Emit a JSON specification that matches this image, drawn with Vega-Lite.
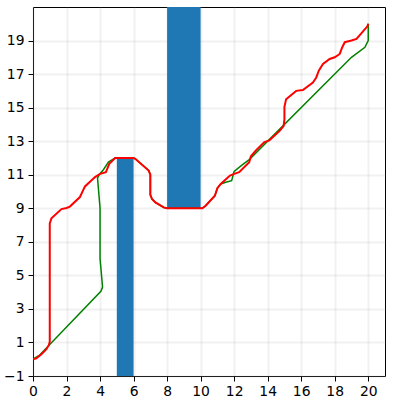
{
  "$schema": "https://vega.github.io/schema/vega-lite/v6.json",
  "autosize": {"type": "none"},
  "padding": {"left": 33, "top": 7, "right": 11, "bottom": 31},
  "width": 352,
  "height": 369,
  "background": "white",
  "config": {
    "view": {"stroke": "black", "strokeWidth": 1},
    "font": "DejaVu Sans",
    "axis": {
      "labelFont": "DejaVu Sans",
      "labelFontSize": 13.9,
      "labelColor": "black",
      "tickColor": "black",
      "tickSize": 5,
      "tickWidth": 1,
      "domain": false,
      "grid": true,
      "gridColor": "#b0b0b0",
      "gridOpacity": 0.18,
      "gridWidth": 2,
      "title": null
    }
  },
  "datasets": {
    "bars": [
      {"x": 5, "x2": 6, "y": -1, "y2": 12},
      {"x": 8, "x2": 10, "y": 9, "y2": 21}
    ],
    "paths": [
      {"s": "green", "i": 0, "x": 0, "y": 0},
      {"s": "green", "i": 1, "x": 0.4, "y": 0.25},
      {"s": "green", "i": 2, "x": 4.05, "y": 4.05},
      {"s": "green", "i": 3, "x": 4.15, "y": 4.3},
      {"s": "green", "i": 4, "x": 4.0, "y": 6.0},
      {"s": "green", "i": 5, "x": 4.0, "y": 9.0},
      {"s": "green", "i": 6, "x": 3.85, "y": 10.8},
      {"s": "green", "i": 7, "x": 3.95, "y": 11.0},
      {"s": "green", "i": 8, "x": 4.2, "y": 11.3},
      {"s": "green", "i": 9, "x": 4.5, "y": 11.75},
      {"s": "green", "i": 10, "x": 4.9, "y": 12},
      {"s": "green", "i": 11, "x": 6, "y": 12},
      {"s": "green", "i": 12, "x": 6.1, "y": 11.95},
      {"s": "green", "i": 13, "x": 6.9, "y": 11.25},
      {"s": "green", "i": 14, "x": 7, "y": 11},
      {"s": "green", "i": 15, "x": 7, "y": 9.8},
      {"s": "green", "i": 16, "x": 7.1, "y": 9.55},
      {"s": "green", "i": 17, "x": 7.3, "y": 9.35},
      {"s": "green", "i": 18, "x": 7.8, "y": 9.05},
      {"s": "green", "i": 19, "x": 8, "y": 9},
      {"s": "green", "i": 20, "x": 10.1, "y": 9},
      {"s": "green", "i": 21, "x": 10.3, "y": 9.15},
      {"s": "green", "i": 22, "x": 10.85, "y": 9.75},
      {"s": "green", "i": 23, "x": 11, "y": 10.2},
      {"s": "green", "i": 24, "x": 11.2, "y": 10.45},
      {"s": "green", "i": 25, "x": 11.5, "y": 10.55},
      {"s": "green", "i": 26, "x": 11.85, "y": 10.65},
      {"s": "green", "i": 27, "x": 12.0, "y": 11.2},
      {"s": "green", "i": 28, "x": 12.5, "y": 11.6},
      {"s": "green", "i": 29, "x": 12.9, "y": 11.9},
      {"s": "green", "i": 30, "x": 19, "y": 18},
      {"s": "green", "i": 31, "x": 19.8, "y": 18.6},
      {"s": "green", "i": 32, "x": 20, "y": 19},
      {"s": "green", "i": 33, "x": 20, "y": 20},
      {"s": "red", "i": 0, "x": 0, "y": 0},
      {"s": "red", "i": 1, "x": 0.2, "y": 0.05},
      {"s": "red", "i": 2, "x": 0.5, "y": 0.3},
      {"s": "red", "i": 3, "x": 0.8, "y": 0.6},
      {"s": "red", "i": 4, "x": 0.95, "y": 0.85},
      {"s": "red", "i": 5, "x": 1, "y": 1.05},
      {"s": "red", "i": 6, "x": 1, "y": 8.1},
      {"s": "red", "i": 7, "x": 1.1, "y": 8.4},
      {"s": "red", "i": 8, "x": 1.7, "y": 8.95},
      {"s": "red", "i": 9, "x": 2, "y": 9.02},
      {"s": "red", "i": 10, "x": 2.2, "y": 9.1},
      {"s": "red", "i": 11, "x": 2.8, "y": 9.67},
      {"s": "red", "i": 12, "x": 3, "y": 10.1},
      {"s": "red", "i": 13, "x": 3.1, "y": 10.3},
      {"s": "red", "i": 14, "x": 3.7, "y": 10.86},
      {"s": "red", "i": 15, "x": 4, "y": 11.05},
      {"s": "red", "i": 16, "x": 4.35, "y": 11.15},
      {"s": "red", "i": 17, "x": 4.55, "y": 11.65},
      {"s": "red", "i": 18, "x": 4.9, "y": 12},
      {"s": "red", "i": 19, "x": 6, "y": 12},
      {"s": "red", "i": 20, "x": 6.1, "y": 11.95},
      {"s": "red", "i": 21, "x": 6.9, "y": 11.25},
      {"s": "red", "i": 22, "x": 7, "y": 11},
      {"s": "red", "i": 23, "x": 7, "y": 9.8},
      {"s": "red", "i": 24, "x": 7.1, "y": 9.55},
      {"s": "red", "i": 25, "x": 7.3, "y": 9.35},
      {"s": "red", "i": 26, "x": 7.8, "y": 9.05},
      {"s": "red", "i": 27, "x": 8, "y": 9},
      {"s": "red", "i": 28, "x": 10.1, "y": 9},
      {"s": "red", "i": 29, "x": 10.3, "y": 9.15},
      {"s": "red", "i": 30, "x": 10.85, "y": 9.75},
      {"s": "red", "i": 31, "x": 11, "y": 10.2},
      {"s": "red", "i": 32, "x": 11.2, "y": 10.45},
      {"s": "red", "i": 33, "x": 11.75, "y": 10.95},
      {"s": "red", "i": 34, "x": 12, "y": 11.05},
      {"s": "red", "i": 35, "x": 12.3, "y": 11.15},
      {"s": "red", "i": 36, "x": 12.9, "y": 11.75},
      {"s": "red", "i": 37, "x": 13, "y": 12.1},
      {"s": "red", "i": 38, "x": 13.3, "y": 12.45},
      {"s": "red", "i": 39, "x": 13.8, "y": 12.95},
      {"s": "red", "i": 40, "x": 14.1, "y": 13.05},
      {"s": "red", "i": 41, "x": 14.7, "y": 13.6},
      {"s": "red", "i": 42, "x": 14.95, "y": 13.9},
      {"s": "red", "i": 43, "x": 15, "y": 14.3},
      {"s": "red", "i": 44, "x": 15, "y": 15.05},
      {"s": "red", "i": 45, "x": 15.1, "y": 15.5},
      {"s": "red", "i": 46, "x": 15.7, "y": 16},
      {"s": "red", "i": 47, "x": 16.1, "y": 16.05},
      {"s": "red", "i": 48, "x": 16.7, "y": 16.5},
      {"s": "red", "i": 49, "x": 16.9, "y": 16.8},
      {"s": "red", "i": 50, "x": 17.05, "y": 17.2},
      {"s": "red", "i": 51, "x": 17.3, "y": 17.6},
      {"s": "red", "i": 52, "x": 17.7, "y": 17.9},
      {"s": "red", "i": 53, "x": 18, "y": 18},
      {"s": "red", "i": 54, "x": 18.3, "y": 18.2},
      {"s": "red", "i": 55, "x": 18.45, "y": 18.6},
      {"s": "red", "i": 56, "x": 18.6, "y": 18.9},
      {"s": "red", "i": 57, "x": 19, "y": 19},
      {"s": "red", "i": 58, "x": 19.3, "y": 19.1},
      {"s": "red", "i": 59, "x": 19.95, "y": 19.85},
      {"s": "red", "i": 60, "x": 20, "y": 20}
    ]
  },
  "encoding": {
    "x": {"field": "x", "type": "quantitative",
          "scale": {"domain": [0, 21], "nice": false, "zero": false},
          "axis": {"values": [0, 2, 4, 6, 8, 10, 12, 14, 16, 18, 20], "labelPadding": 3, "labelOverlap": false, "labelFlush": false, "labelBound": false}},
    "y": {"field": "y", "type": "quantitative",
          "scale": {"domain": [-1, 21], "nice": false, "zero": false},
          "axis": {"values": [-1, 1, 3, 5, 7, 9, 11, 13, 15, 17, 19], "labelPadding": 4, "labelOverlap": false, "labelFlush": false, "labelBound": false}}
  },
  "layer": [
    {
      "data": {"name": "bars"},
      "mark": {"type": "rect", "color": "#1f77b4", "clip": true},
      "encoding": {
        "x2": {"field": "x2"},
        "y2": {"field": "y2"}
      }
    },
    {
      "data": {"name": "paths"},
      "transform": [{"filter": "datum.s === 'green'"}],
      "mark": {"type": "line", "color": "green", "strokeWidth": 1.5, "clip": true},
      "encoding": {
        "order": {"field": "i", "type": "quantitative"}
      }
    },
    {
      "data": {"name": "paths"},
      "transform": [{"filter": "datum.s === 'red'"}],
      "mark": {"type": "line", "color": "red", "strokeWidth": 2, "clip": true},
      "encoding": {
        "order": {"field": "i", "type": "quantitative"}
      }
    }
  ]
}
